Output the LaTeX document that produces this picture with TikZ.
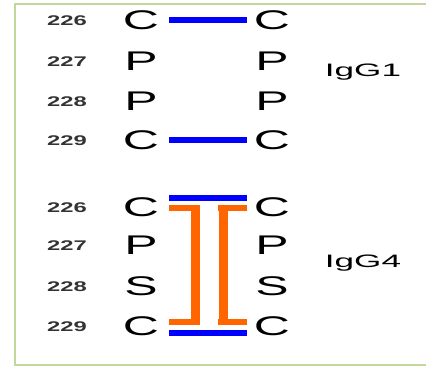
\documentclass[tikz,border=0pt]{standalone}
\usepackage{fontspec}
\setmainfont{Liberation Sans}
\newfontfamily\residuefont{Liberation Sans}[FakeStretch=1.85]
\newfontfamily\numberfont{Liberation Sans}[FakeStretch=1.7]
\newfontfamily\chainfont{Liberation Sans}[FakeStretch=1.95]
\definecolor{framegreen}{HTML}{C3D69B}
\definecolor{bondblue}{HTML}{0000FF}
\definecolor{hingeorange}{HTML}{FF6600}

\tikzset{
	residue/.style={inner sep=0pt, font=\residuefont\fontsize{27}{27}\selectfont},
	resnum/.style={inner sep=0pt, text=black!80, font=\numberfont\bfseries\fontsize{14}{14}\selectfont},
	chainname/.style={inner sep=0pt, anchor=base, font=\chainfont\fontsize{18}{18}\selectfont},
	ssbond/.style={draw=bondblue, line width=5.5pt},
	hingeh/.style={draw=hingeorange, line width=6pt},
	hingev/.style={draw=hingeorange, line width=9pt},
}

\begin{document}
\begin{tikzpicture}[x=1pt, y=-1pt]
	
		\useasboundingbox (0,0) rectangle (426,367);
		\draw[framegreen, line width=2pt] (427,4) -- (15,4) -- (15,365) -- (427,365);
	
		% IgG1 hinge
		\foreach \res/\y [count=\i from 0] in {C/20, P/61, P/101, C/140}
		{
			\pgfmathtruncatemacro\num{226+\i}
			\node[resnum] (g1n\i) at (67, \y+1) {\num};
			\node[residue] (g1l\i) at (141, \y) {\res};
			\node[residue] (g1r\i) at (272, \y) {\res};
		}
		\node[chainname] (igg1) at (363, 76.5) {IgG1};
		
		\draw[ssbond] ([xshift=28pt]g1l0.center) -- ([xshift=-25pt]g1r0.center);
		\draw[ssbond] ([xshift=28pt]g1l3.center) -- ([xshift=-25pt]g1r3.center);
		
		% IgG4 hinge
		\foreach \res/\y [count=\i from 0] in {C/207, P/245, S/286, C/326}
		{
			\pgfmathtruncatemacro\num{226+\i}
			\node[resnum] (g4n\i) at (67, \y+1) {\num};
			\node[residue] (g4l\i) at (141, \y) {\res};
			\node[residue] (g4r\i) at (272, \y) {\res};
		}
		\node[chainname] (igg4) at (363, 267.5) {IgG4};
		
		\draw[ssbond] ([xshift=28pt, yshift=9pt]g4l0.center) -- ([xshift=-25pt, yshift=9pt]g4r0.center);
		\draw[ssbond] ([xshift=28pt, yshift=-7pt]g4l3.center) -- ([xshift=-25pt, yshift=-7pt]g4r3.center);
		
		% intra-chain bonds
		\draw[hingeh] ([xshift=28pt, yshift=-1pt]g4l0.center) -- ([xshift=59pt, yshift=-1pt]g4l0.center);
		\draw[hingeh] ([xshift=28pt, yshift=4pt]g4l3.center) -- ([xshift=59pt, yshift=4pt]g4l3.center);
		\draw[hingev] ([xshift=54pt, yshift=2pt]g4l0.center) -- ([xshift=54pt, yshift=1pt]g4l3.center);
		
		\draw[hingeh] ([xshift=-54pt, yshift=-1pt]g4r0.center) -- ([xshift=-25pt, yshift=-1pt]g4r0.center);
		\draw[hingeh] ([xshift=-54pt, yshift=4pt]g4r3.center) -- ([xshift=-25pt, yshift=4pt]g4r3.center);
		\draw[hingev] ([xshift=-49pt, yshift=2pt]g4r0.center) -- ([xshift=-49pt, yshift=1pt]g4r3.center);
		
\end{tikzpicture}
\end{document}
